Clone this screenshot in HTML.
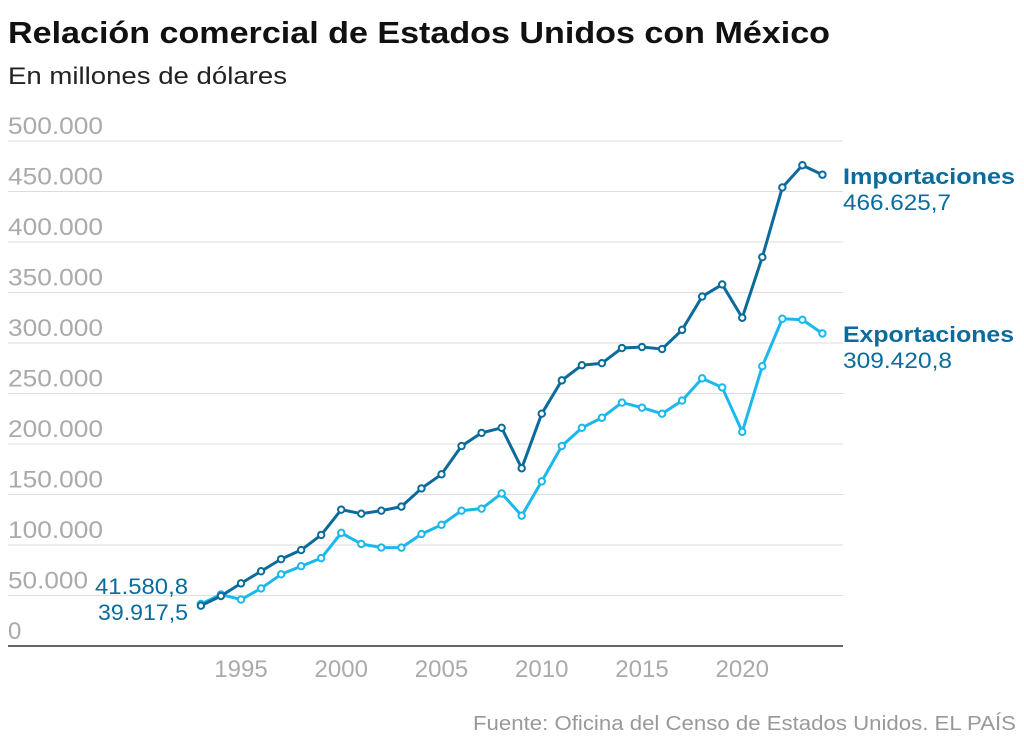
<!DOCTYPE html>
<html><head><meta charset="utf-8"><style>
body{margin:0;background:#fff;width:1024px;height:750px;overflow:hidden;font-family:"Liberation Sans",sans-serif}
</style></head><body>
<svg id="c" width="1024" height="750" xmlns="http://www.w3.org/2000/svg" font-family="Liberation Sans, sans-serif">
<text x="8" y="43" font-size="31" font-weight="bold" fill="#111" textLength="822" lengthAdjust="spacingAndGlyphs">Relación comercial de Estados Unidos con México</text>
<text x="8" y="84" font-size="24" fill="#222" textLength="279" lengthAdjust="spacingAndGlyphs">En millones de dólares</text>
<g id="grid"></g>
<line x1="8" y1="646" x2="843" y2="646" stroke="#333" stroke-width="1.5"/>
<g id="series"></g>
<text x="843" y="184" font-size="22" font-weight="bold" fill="#0a6b9c" textLength="172" lengthAdjust="spacingAndGlyphs">Importaciones</text>
<text x="843" y="210" font-size="22" fill="#0a6b9c" textLength="108" lengthAdjust="spacingAndGlyphs">466.625,7</text>
<text x="843" y="342" font-size="22" font-weight="bold" fill="#0a6b9c" textLength="171" lengthAdjust="spacingAndGlyphs">Exportaciones</text>
<text x="843" y="368" font-size="22" fill="#0a6b9c" textLength="109" lengthAdjust="spacingAndGlyphs">309.420,8</text>
<text x="95" y="594" font-size="22" fill="#0a6b9c" textLength="93" lengthAdjust="spacingAndGlyphs">41.580,8</text>
<text x="98" y="620" font-size="22" fill="#0a6b9c" textLength="90" lengthAdjust="spacingAndGlyphs">39.917,5</text>
<text x="473" y="730" font-size="20" fill="#999" textLength="543" lengthAdjust="spacingAndGlyphs">Fuente: Oficina del Censo de Estados Unidos. EL PAÍS</text>
</svg>
<script>
const ns="http://www.w3.org/2000/svg";
function el(t,a,p,txt){const e=document.createElementNS(ns,t);for(const k in a)e.setAttribute(k,a[k]);if(txt!==undefined)e.textContent=txt;p.appendChild(e);return e;}
const Y=v=>646-v/50000*50.5, X=y=>241+(y-1995)*20.05;
const g=document.getElementById('grid');
for(let i=0;i<=10;i++){const y=Y(i*50000);
 if(i>0) el('line',{x1:8,x2:843,y1:y,y2:y,stroke:'#ddd','stroke-width':1},g);
 const t=el('text',{x:8,y:y-7,'font-size':24,fill:'#aaa'},g,i==0?'0':(i*50)+'.000');
 if(i>0){t.setAttribute('textLength',i>=2&&i<=10&&i!=1?95:80);t.setAttribute('lengthAdjust','spacingAndGlyphs');}
}
[1995,2000,2005,2010,2015,2020].forEach(yr=>el('text',{x:X(yr),y:677,'font-size':24,fill:'#aaa','text-anchor':'middle'},g,yr));
const imp=[39.9,49.5,62,74,86,95,110,135,131,134,138,156,170,198,211,216,176,230,263,278,280,295,296,294,313,346,358,325,385,454,476,466.6];
const exp=[41.6,51,46,57,71,79,87,112,101,97.5,97.4,110.8,120,134,136,151,129,163,198,216,226,241,236,230,243,265,256,212,277,324,323,309.4];
const s=document.getElementById('series');
[[exp,'#1ab8ec'],[imp,'#0a6b9c']].forEach(([d,c])=>{
 const pts=d.map((v,i)=>X(1993+i)+','+Y(v*1000)).join(' ');
 el('polyline',{points:pts,fill:'none',stroke:c,'stroke-width':3,'stroke-linejoin':'round'},s);
 d.forEach((v,i)=>el('circle',{cx:X(1993+i),cy:Y(v*1000),r:3.2,fill:'#fff',stroke:c,'stroke-width':2},s));
});
</script>
</body></html>
